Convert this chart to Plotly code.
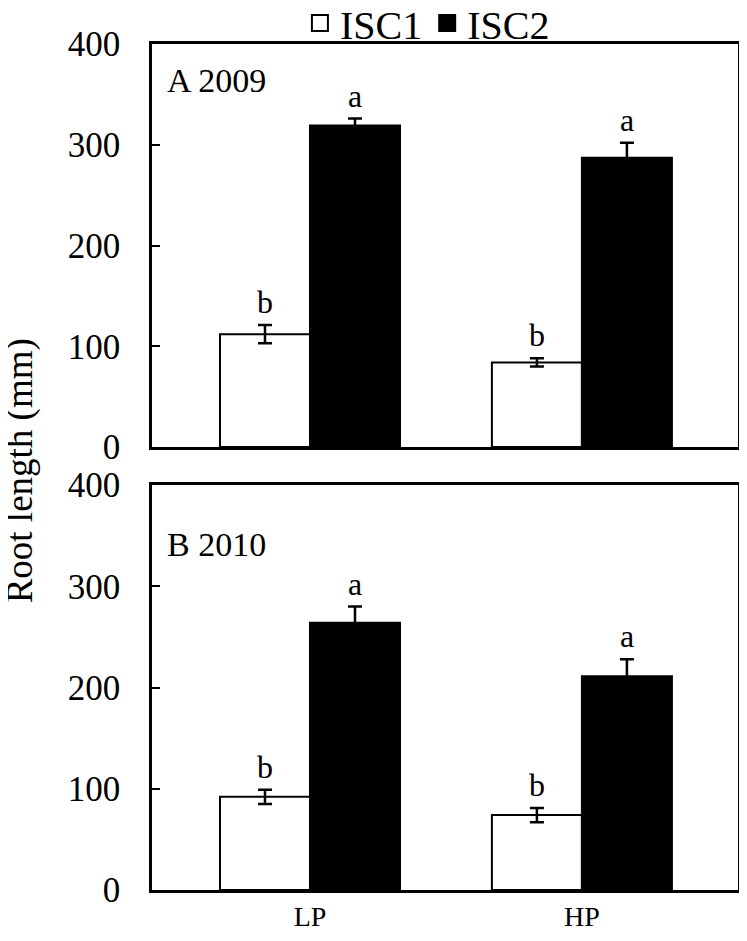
import plotly.graph_objects as go
from plotly.subplots import make_subplots

categories = ["LP", "HP"]
series_names = ["ISC1", "ISC2"]
# Panel A 2009
a_isc1 = [112, 84]
a_isc1_err = [9, 4]
a_isc2 = [319, 287]
a_isc2_err = [7, 15]
a_letters_isc1 = ["b", "b"]
a_letters_isc2 = ["a", "a"]
# Panel B 2010
b_isc1 = [92, 74]
b_isc1_err = [7, 7]
b_isc2 = [264, 211]
b_isc2_err = [16, 17]
b_letters_isc1 = ["b", "b"]
b_letters_isc2 = ["a", "a"]
panel_labels = ["A 2009", "B 2010"]
y_ticks = [0, 100, 200, 300, 400]

FONT = "Liberation Serif"
W, H = 731, 925  # page body has an 8 px margin around the figure

fig = make_subplots(rows=2, cols=1, shared_xaxes=False, vertical_spacing=0.045)

bar_w = 0.331
panels = [
    (a_isc1, a_isc1_err, a_isc2, a_isc2_err, a_letters_isc1, a_letters_isc2),
    (b_isc1, b_isc1_err, b_isc2, b_isc2_err, b_letters_isc1, b_letters_isc2),
]

annotations = []
for r, (v1, e1, v2, e2, l1, l2) in enumerate(panels, start=1):
    fig.add_trace(go.Bar(
        x=categories, y=v1, name=series_names[0], showlegend=False,
        marker=dict(color="white", line=dict(color="black", width=2)),
        error_y=dict(type="data", array=e1, visible=True, color="black", thickness=2.5, width=7),
    ), row=r, col=1)
    fig.add_trace(go.Bar(
        x=categories, y=v2, name=series_names[1], showlegend=False,
        marker=dict(color="black", line=dict(color="black", width=2)),
        error_y=dict(type="data", array=e2, visible=True, color="black", thickness=2.5, width=7),
    ), row=r, col=1)
    xref = "x" if r == 1 else "x2"
    yref = "y" if r == 1 else "y2"
    for i in range(len(categories)):
        for off, vals, errs, labs in ((-bar_w / 2, v1, e1, l1), (bar_w / 2, v2, e2, l2)):
            annotations.append(dict(
                x=i + off, y=vals[i] + errs[i], xref=xref, yref=yref,
                text=labs[i], showarrow=False, yanchor="bottom", yshift=3,
                font=dict(family=FONT, size=32, color="black"),
            ))

# Legend via dummy traces with square markers
fig.add_trace(go.Scatter(x=[None], y=[None], mode="markers", name=series_names[0],
                         marker=dict(symbol="square", size=16, color="white",
                                     line=dict(color="black", width=2))), row=1, col=1)
fig.add_trace(go.Scatter(x=[None], y=[None], mode="markers", name=series_names[1],
                         marker=dict(symbol="square", size=16, color="black",
                                     line=dict(color="black", width=2))), row=1, col=1)

annotations.append(dict(x=0.022, y=0.91, xref="x domain", yref="y domain", text=panel_labels[0],
                        showarrow=False, xanchor="left", yanchor="middle",
                        font=dict(family=FONT, size=34, color="black")))
annotations.append(dict(x=0.022, y=0.852, xref="x2 domain", yref="y2 domain", text=panel_labels[1],
                        showarrow=False, xanchor="left", yanchor="middle",
                        font=dict(family=FONT, size=34, color="black")))
annotations.append(dict(x=-0.2253, y=0.496, xref="paper", yref="paper", text="Root length (mm)",
                        showarrow=False, textangle=-90, xanchor="center", yanchor="middle",
                        font=dict(family=FONT, size=37, color="black")))

fig.update_layout(
    width=W, height=H,
    margin=dict(l=144, r=1, t=36, b=43, autoexpand=False),
    paper_bgcolor="white", plot_bgcolor="white",
    barmode="group", bargap=0.338, bargroupgap=0,
    font=dict(family=FONT, color="black"),
    legend=dict(orientation="h", x=0.47, y=1 - 15 / H, xref="paper", yref="container",
                xanchor="center", yanchor="middle", bgcolor="rgba(0,0,0,0)",
                font=dict(family=FONT, size=40, color="black"), itemsizing="trace",
                tracegroupgap=0, itemwidth=30),
    annotations=annotations,
)

common_x = dict(range=[-0.581, 1.574], showline=True, linecolor="black", linewidth=2.5,
                mirror=True, ticks="", showgrid=False, zeroline=False,
                tickfont=dict(family=FONT, size=28, color="black"))
fig.update_xaxes(**common_x)
fig.update_xaxes(showticklabels=False, row=1, col=1)
fig.update_xaxes(showticklabels=True, row=2, col=1)

common_y = dict(range=[0, 400], tickvals=y_ticks, showline=True, linecolor="black", linewidth=2.5,
                mirror=True, ticks="inside", ticklen=8, tickwidth=1.5, tickcolor="black",
                showgrid=False, zeroline=False, ticklabelstandoff=22,
                tickfont=dict(family=FONT, size=35, color="black"))
fig.update_yaxes(**common_y)

fig.layout.yaxis.domain = [0.5236, 1.0]
fig.layout.yaxis2.domain = [0.0, 0.4787]

fig.write_html("out.html")
